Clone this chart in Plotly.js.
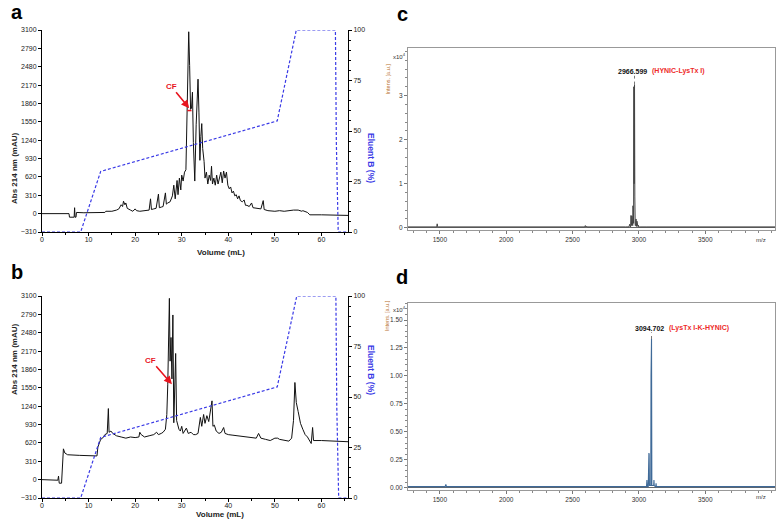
<!DOCTYPE html>
<html>
<head>
<meta charset="utf-8">
<script src="https://cdn.plot.ly/plotly-3.0.1.min.js"></script>
<style>html,body{margin:0;padding:0;background:#fff;}#chart{width:778px;height:520px;}</style>
</head>
<body>
<div id="chart"></div>
<script>
// ---- Panel a: chromatogram (Volume mL vs Abs 214 nm mAU) ----
const aVol = [0,5.8,5.9,6.5,6.9,7.0,7.1,7.3,7.4,9,12,13.5,13.7,15,16,16.5,17,17.3,17.5,17.8,18,18.3,19,19.5,20,20.3,21,22,23,23.3,23.5,24,24.5,25,25.2,25.6,26,26.5,26.7,27,27.5,28,28.3,28.6,29,29.2,29.5,29.8,30,30.3,30.6,30.9,31.1,31.3,31.5,31.7,31.9,32.1,32.3,32.5,32.8,33.1,33.3,33.5,33.7,33.9,34.1,34.3,34.5,34.8,35.0,35.3,35.6,35.9,36.2,36.4,36.6,36.9,37.2,37.5,37.8,38.1,38.4,38.7,39,39.3,39.6,39.9,40.2,40.5,40.8,41.1,41.4,41.7,42,42.3,42.6,43,43.4,43.7,44,44.5,45,45.3,46,47,47.5,47.7,48.5,50,51,52,54,55,55.8,56,57,57.5,60,63,65.7];
const aAbs = [0,0,-60,-60,-60,100,-60,-60,20,15,10,20,40,40,60,80,150,120,210,150,180,90,60,40,80,50,40,50,60,250,70,80,90,330,100,110,120,350,160,180,200,300,480,250,560,320,600,400,650,550,700,740,1800,2760,3070,2500,1760,1780,2050,1200,550,1500,2000,2270,1700,900,1300,1520,1100,880,600,700,500,650,560,800,500,600,480,650,500,620,700,520,720,600,700,480,420,450,350,380,300,320,250,300,220,200,230,140,140,120,180,100,90,80,220,70,50,40,50,40,60,60,40,50,20,-20,-20,-30,-30];
const aGradVol = [0,8.3,12.6,50.5,54.6,63.0,63.2,63.6,65.7];
const aGradB = [0,0,30,55,100,100,44,0,0];
const aCF = {vol: 31.6, abs: 1780};

// ---- Panel b: chromatogram ----
const bVol = [0,3.4,3.55,3.7,4.2,4.4,4.6,4.9,5.5,8,11.8,12.0,12.3,12.6,13,13.5,14,14.25,14.4,14.8,15.2,16,17,18,19,20,20.8,21,21.3,21.6,22,23,24,24.6,25,25.6,26,26.5,26.8,27,27.2,27.35,27.5,27.7,27.9,28.1,28.3,28.5,28.7,28.9,29.1,29.4,29.7,30,30.3,30.7,31,31.4,32,32.5,33,33.5,34,34.3,34.7,35,35.4,35.8,36.2,36.5,36.7,37,37.4,38,38.5,39,39.3,40,41,42,43,44,45,46,46.5,47,48,49,50,50.6,51,52,53,53.6,54,54.3,54.6,55,55.5,56,56.5,57,57.5,57.8,58.1,58.3,60,63,65.7];
const bAbs = [0,-10,60,-60,-60,400,520,450,420,410,400,550,620,680,700,760,780,1200,800,820,780,740,720,700,720,710,720,800,760,740,720,740,760,800,760,780,800,850,1100,1600,2200,3060,2000,2400,1700,2780,960,1500,2130,1000,950,850,820,900,780,830,870,780,800,760,760,780,1050,900,1100,950,1080,980,1200,1330,900,920,820,780,800,880,780,760,750,740,720,720,700,700,780,700,680,660,700,700,680,660,650,700,1000,1640,1300,1150,950,850,760,720,650,610,880,660,660,650,640];
const bGradVol = [0,8.3,12.6,50.5,54.7,63.1,63.3,63.7,65.7];
const bGradB = [0,0,30,55,100,100,44,0,0];
const bCF = {vol: 27.9, abs: 1610};

// ---- Panel c: MALDI spectrum (m/z vs intensity x10^4) ----
const cMz = [1260,1470,1476,1480,1484,1490,1800,2100,2300,2590,2596,2600,2604,2610,2900,2925,2930,2933,2937,2940,2943,2945,2947,2950,2953,2955,2958,2960,2961,2963,2964,2966.6,2968,2969,2972,2975,2978,2981,2985,2988,2992,2995,2998,3005,3010,3015,3060,3200,4025];
const cInt = [0.02,0.02,0.02,0.09,0.02,0.02,0.02,0.02,0.02,0.02,0.05,0.02,0.04,0.02,0.02,0.02,0.08,0.02,0.02,0.28,0.05,0.05,0.27,0.05,0.05,0.5,0.1,0.1,3.2,3.15,1.0,3.25,3.1,0.7,0.05,0.05,0.2,0.03,0.15,0.03,0.03,0.06,0.02,0.02,0.03,0.02,0.02,0.02,0.02];
const cPeak = {mz: 2966.6, int: 3.25, label: "2966.599", name: "(HYNIC-LysTx I)"};

// ---- Panel d: MALDI spectrum ----
const dMz = [1260,1540,1545,1550,2000,2500,3040,3057,3060,3063,3070,3073,3075,3077,3079,3086,3089,3091,3094.7,3097,3108,3111,3113,3115,3124,3127,3129,3131,3160,3500,4025];
const dInt = [0.01,0.01,0.03,0.01,0.01,0.01,0.01,0.01,0.07,0.01,0.01,0.3,0.31,0.3,0.02,0.02,0.02,1.0,1.33,0.02,0.02,0.02,0.07,0.02,0.01,0.01,0.04,0.01,0.01,0.01,0.01];
const dPeak = {mz: 3094.7, int: 1.33, label: "3094.702", name: "(LysTx I-K-HYNIC)"};

// ---- tick labels ----
const absTicks = [-310,0,310,620,930,1240,1550,1860,2170,2480,2790,3100];
const volTicks = [0,10,20,30,40,50,60];
const mzTicks = [1500,2000,2500,3000,3500];
const cTicks = [0,1,2,3];
const dTicks = [0,0.25,0.5,0.75,1.0,1.25,1.5];

const FONT = "Liberation Sans, Arial, sans-serif";
const tickFont = {family: FONT, size: 7, color: "#222"};
const blue = "#3a3ae6";

const traces = [
  {x: aVol, y: aAbs, xaxis: "x", yaxis: "y", type: "scatter", mode: "lines", line: {color: "#111", width: 1}},
  {x: aGradVol, y: aGradB, xaxis: "x", yaxis: "y2", type: "scatter", mode: "lines", line: {color: blue, width: 1.2, dash: "3px,2px"}},
  {x: bVol, y: bAbs, xaxis: "x2", yaxis: "y3", type: "scatter", mode: "lines", line: {color: "#111", width: 1}},
  {x: bGradVol, y: bGradB, xaxis: "x2", yaxis: "y4", type: "scatter", mode: "lines", line: {color: blue, width: 1.2, dash: "3px,2px"}},
  {x: cMz, y: cInt, xaxis: "x3", yaxis: "y5", type: "scatter", mode: "lines", line: {color: "#444", width: 1}},
  {x: dMz, y: dInt, xaxis: "x4", yaxis: "y6", type: "scatter", mode: "lines", line: {color: "#3f6a98", width: 1.1}}
];

function volAxis(dom, anchor) {
  return {domain: dom, anchor: anchor, range: [0, 65.7], tickvals: volTicks, ticks: "outside", ticklen: 3,
    tickwidth: 1, tickcolor: "#000", minor: {ticks: "outside", ticklen: 2, dtick: 5, tickcolor: "#000"},
    showline: true, linecolor: "#000", linewidth: 1, showgrid: false, zeroline: false, tickfont: tickFont,
    ticklabelstandoff: -2};
}
function absAxis(dom, anchor) {
  return {domain: dom, anchor: anchor, range: [-310, 3100], tickvals: absTicks, ticks: "outside", ticklen: 3,
    tickcolor: "#000", showline: true, linecolor: "#000", linewidth: 1, showgrid: false, zeroline: false, tickfont: tickFont};
}
function gradAxis(over, anchor) {
  return {overlaying: over, anchor: anchor, side: "right", range: [0, 100], tickvals: [0,25,50,75,100], ticks: "outside",
    ticklen: 3, tickcolor: "#000", minor: {ticks: "outside", ticklen: 2, dtick: 5, tickcolor: "#000"},
    showline: true, linecolor: "#000", linewidth: 1, showgrid: false, zeroline: false, tickfont: tickFont};
}
function mzAxis(dom, anchor) {
  return {domain: dom, anchor: anchor, range: [1260, 4025], tickvals: mzTicks, ticks: "outside", ticklen: 3,
    tickcolor: "#777", minor: {ticks: "outside", ticklen: 2, dtick: 100, tickcolor: "#888"},
    showline: true, mirror: true, linecolor: "#999", linewidth: 1, showgrid: false, zeroline: false,
    tickfont: {family: FONT, size: 6.5, color: "#333"}};
}
function intAxis(dom, anchor, rng, ticks, fmt, mdt) {
  return {domain: dom, anchor: anchor, range: rng, tickvals: ticks, tickformat: fmt, ticks: "outside", ticklen: 3,
    tickcolor: "#777", minor: {ticks: "outside", ticklen: 2, dtick: mdt, tickcolor: "#888"},
    showline: true, mirror: true, linecolor: "#999", linewidth: 1, showgrid: false,
    zeroline: true, zerolinecolor: "#666", zerolinewidth: 1, tickfont: {family: FONT, size: 6.5, color: "#333"}};
}

const xdomL = [42/778, 348/778];
const xdomR = [408/778, 775/778];

const annotations = [];
function addText(text, x, y, opts) {
  annotations.push(Object.assign({text: text, x: x, y: y, xref: "paper", yref: "paper", showarrow: false,
    font: {family: FONT, size: 9, color: "#111"}}, opts || {}));
}
// panel letters
const letterFont = {family: FONT, size: 20, color: "#000"};
addText("<b>a</b>", 10/778, 1, {font: letterFont, yanchor: "top", borderpad: 0});
addText("<b>b</b>", 10/778, 1 - 260/520, {font: letterFont, yanchor: "top", borderpad: 0});
addText("<b>c</b>", 402/778, 1 - 2/520, {font: letterFont, yanchor: "top", borderpad: 0});
addText("<b>d</b>", 402/778, 1 - 265/520, {font: letterFont, yanchor: "top", borderpad: 0});
// axis titles chromatograms
[[131, 252], [397, 520]].forEach(function (p, i) {
  addText("<b>Abs 214 nm (mAU)</b>", 8/778, 1 - p[0]/520, {textangle: -90, font: {family: FONT, size: 8, color: "#222"}});
  addText("<b>Eluent B (%)</b>", 371/778, 1 - p[0]/520, {textangle: 90, font: {family: FONT, size: 8.5, color: blue}});
  addText("<b>Volume (mL)</b>", 195/778, 1 - p[1]/520, i === 1 ? {yanchor: "bottom", borderpad: 0, font: {family: FONT, size: 8, color: "#222"}} : {font: {family: FONT, size: 8, color: "#222"}});
});
// MS axis labels
[[62, 50, 240], [316, 309, 502]].forEach(function (p) {
  addText("Intens. [a.u.]", 387/778, 1 - p[0]/520, {textangle: -90, font: {family: FONT, size: 5.5, color: "#b8702e"}});
  addText("x10<sup>4</sup>", 399/778, 1 - p[1]/520, {font: {family: FONT, size: 6, color: "#333"}});
  addText("m/z", 768/778, 1 - p[2]/520, {font: {family: FONT, size: 6, color: "#333"}});
});
// CF arrows
annotations.push({text: "<b>CF</b>", x: aCF.vol, y: aCF.abs, xref: "x", yref: "y", showarrow: true, arrowhead: 2,
  arrowsize: 1, arrowwidth: 1.6, arrowcolor: "#e8141e", ax: -18, ay: -22, font: {family: FONT, size: 8, color: "#e8141e"}});
annotations.push({text: "<b>CF</b>", x: bCF.vol, y: bCF.abs, xref: "x2", yref: "y3", showarrow: true, arrowhead: 2,
  arrowsize: 1, arrowwidth: 1.6, arrowcolor: "#e8141e", ax: -21, ay: -24, font: {family: FONT, size: 8, color: "#e8141e"}});
// peak labels
[[cPeak, "x3", "y5", 8], [dPeak, "x4", "y6", 5]].forEach(function (p) {
  const pk = p[0];
  annotations.push({text: "<b>" + pk.label + "</b>", x: pk.mz, y: pk.int, xref: p[1], yref: p[2], showarrow: false,
    xanchor: "center", yanchor: "bottom", xshift: -2, yshift: p[3], font: {family: FONT, size: 7, color: "#111"}});
  annotations.push({text: "<b>" + pk.name + "</b>", x: pk.mz, y: pk.int, xref: p[1], yref: p[2], showarrow: false,
    xanchor: "left", yanchor: "bottom", xshift: 15, yshift: p[3], font: {family: FONT, size: 7, color: "#ee2a2a"}});
});

const shapes = [
  {type: "line", xref: "x", yref: "y", x0: aCF.vol - 0.4, x1: aCF.vol + 0.5, y0: aCF.abs - 40, y1: aCF.abs - 40, line: {color: "#e8141e", width: 1.5}},
  {type: "line", xref: "x3", yref: "y5", x0: cPeak.mz, x1: cPeak.mz, y0: cPeak.int, y1: cPeak.int + 0.2, line: {color: "#777", width: 1, dash: "dot"}},
  {type: "line", xref: "x4", yref: "y6", x0: dPeak.mz, x1: dPeak.mz, y0: dPeak.int, y1: dPeak.int + 0.06, line: {color: "#777", width: 1, dash: "dot"}}
];

const layout = {
  width: 778, height: 520, margin: {l: 0, r: 0, t: 0, b: 0}, showlegend: false,
  paper_bgcolor: "#fff", plot_bgcolor: "rgba(0,0,0,0)", font: {family: FONT},
  xaxis: volAxis(xdomL, "y"),
  yaxis: absAxis([1 - 232/520, 1 - 30/520], "x"),
  yaxis2: gradAxis("y", "x"),
  xaxis2: volAxis(xdomL, "y3"),
  yaxis3: absAxis([1 - 498/520, 1 - 296/520], "x2"),
  yaxis4: gradAxis("y3", "x2"),
  xaxis3: mzAxis(xdomR, "y5"),
  yaxis5: intAxis([1 - 230/520, 1 - 48/520], "x3", [-0.05, 4.08], cTicks, "d", 0.2),
  xaxis4: mzAxis(xdomR, "y6"),
  yaxis6: intAxis([1 - 490/520, 1 - 303/520], "x4", [-0.02, 1.652], dTicks, ".2f", 0.05),
  annotations: annotations, shapes: shapes
};

Plotly.newPlot("chart", traces, layout, {staticPlot: true, displayModeBar: false});
</script>
</body>
</html>
